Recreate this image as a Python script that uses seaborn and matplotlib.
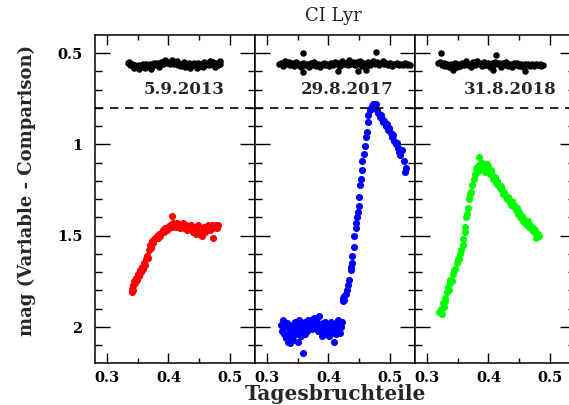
import numpy as np
import pandas as pd
import matplotlib
matplotlib.use("Agg")
import matplotlib.pyplot as plt
import seaborn as sns
from matplotlib.ticker import MultipleLocator, FuncFormatter

# ---------------- data ----------------
title = "CI Lyr"
dates = ["5.9.2013", "29.8.2017", "31.8.2018"]
xlabel = "Tagesbruchteile"
ylabel = "mag (Variable - Comparison)"
ref_level = 0.8

red_phase = [0.340, 0.341, 0.342, 0.343, 0.344, 0.346, 0.347, 0.349, 0.350, 0.352,
             0.353, 0.355, 0.357, 0.358, 0.360, 0.362, 0.363, 0.365, 0.367, 0.368,
             0.370, 0.372, 0.373, 0.375, 0.377, 0.379, 0.381, 0.383, 0.385, 0.387,
             0.389, 0.391, 0.393, 0.395, 0.397, 0.399, 0.401, 0.403, 0.405, 0.406,
             0.408, 0.410, 0.412, 0.414, 0.416, 0.418, 0.420, 0.422, 0.424, 0.426,
             0.428, 0.430, 0.432, 0.434, 0.436, 0.438, 0.440, 0.442, 0.444, 0.446,
             0.448, 0.450, 0.452, 0.454, 0.456, 0.458, 0.460, 0.462, 0.464, 0.466,
             0.468, 0.470, 0.472, 0.473, 0.475, 0.477, 0.479, 0.481]
red_mag = [1.81, 1.79, 1.80, 1.77, 1.75, 1.76, 1.73, 1.74, 1.71, 1.72,
           1.69, 1.70, 1.67, 1.68, 1.65, 1.66, 1.63, 1.61, 1.62, 1.58,
           1.55, 1.57, 1.53, 1.54, 1.52, 1.51, 1.50, 1.51, 1.49, 1.50,
           1.48, 1.47, 1.48, 1.46, 1.47, 1.45, 1.46, 1.44, 1.45, 1.39,
           1.43, 1.44, 1.45, 1.43, 1.44, 1.46, 1.44, 1.45, 1.43, 1.46,
           1.44, 1.47, 1.45, 1.46, 1.44, 1.47, 1.48, 1.45, 1.49, 1.47,
           1.44, 1.48, 1.49, 1.50, 1.47, 1.45, 1.48, 1.46, 1.44, 1.45,
           1.47, 1.44, 1.46, 1.51, 1.45, 1.44, 1.46, 1.44]

blue_phase = [0.323, 0.325, 0.326, 0.328, 0.329, 0.331, 0.332, 0.334, 0.335, 0.337,
              0.338, 0.340, 0.341, 0.343, 0.344, 0.346, 0.347, 0.349, 0.350, 0.352,
              0.353, 0.355, 0.356, 0.358, 0.359, 0.361, 0.362, 0.364, 0.365, 0.367,
              0.368, 0.370, 0.371, 0.373, 0.374, 0.376, 0.377, 0.379, 0.380, 0.382,
              0.383, 0.385, 0.386, 0.388, 0.389, 0.391, 0.392, 0.394, 0.395, 0.397,
              0.398, 0.400, 0.401, 0.403, 0.404, 0.406, 0.407, 0.409, 0.410, 0.412,
              0.413, 0.415, 0.416, 0.418, 0.419, 0.421, 0.422,
              0.423, 0.424, 0.425, 0.426, 0.428, 0.430, 0.432, 0.434, 0.436, 0.437,
              0.438, 0.439, 0.441, 0.442, 0.444, 0.445, 0.446, 0.448, 0.449, 0.450,
              0.452, 0.453, 0.454, 0.455, 0.457, 0.459, 0.461, 0.462, 0.464, 0.465,
              0.467, 0.469, 0.471, 0.473, 0.475, 0.477, 0.479, 0.481, 0.483, 0.485,
              0.487, 0.489, 0.491, 0.493, 0.495, 0.497, 0.499, 0.501, 0.503, 0.505,
              0.507, 0.509, 0.511, 0.513, 0.515, 0.517, 0.519, 0.522, 0.525, 0.526]
blue_mag = [1.99, 2.02, 1.96, 2.04, 2.00, 2.06, 1.98, 2.08, 2.03, 2.09,
            2.01, 2.06, 1.99, 2.07, 2.02, 1.97, 2.04, 2.00, 2.08, 1.96,
            2.03, 2.05, 1.99, 2.14, 2.01, 1.97, 2.04, 1.98, 2.02, 1.96,
            2.00, 1.98, 1.96, 2.01, 1.97, 1.99, 1.95, 1.98, 2.00, 1.97,
            2.02, 1.94, 1.99, 2.01, 2.05, 1.98, 2.03, 2.00, 1.97, 2.02,
            2.04, 1.99, 2.05, 2.01, 1.97, 2.03, 2.00, 2.08, 2.02, 1.98,
            2.04, 2.01, 1.96, 2.03, 1.99, 2.00, 1.97,
            1.86, 1.84, 1.85, 1.83, 1.82, 1.80, 1.77, 1.74, 1.69, 1.67,
            1.65, 1.61, 1.56, 1.50, 1.46, 1.43, 1.40, 1.37, 1.34, 1.29,
            1.22, 1.19, 1.14, 1.09, 1.05, 1.01, 0.96, 0.93, 0.88, 0.84,
            0.81, 0.80, 0.79, 0.78, 0.80, 0.78, 0.81, 0.83, 0.85, 0.84,
            0.86, 0.88, 0.87, 0.90, 0.89, 0.92, 0.91, 0.94, 0.96, 0.95,
            0.98, 1.00, 0.99, 1.02, 1.04, 1.06, 1.03, 1.09, 1.15, 1.13]

green_phase = [0.320, 0.322, 0.324, 0.326, 0.327, 0.329, 0.330, 0.332, 0.334, 0.335,
               0.337, 0.338, 0.340, 0.342, 0.344, 0.346, 0.348, 0.350, 0.352, 0.354,
               0.356, 0.358, 0.359, 0.361, 0.362, 0.364, 0.365, 0.367, 0.369, 0.370,
               0.372, 0.374, 0.376, 0.378, 0.380, 0.381, 0.383, 0.384, 0.386, 0.387,
               0.389, 0.390, 0.392, 0.394, 0.395, 0.397, 0.399, 0.400, 0.402, 0.404,
               0.406, 0.408, 0.410, 0.412, 0.414, 0.416, 0.418, 0.420, 0.422, 0.424,
               0.426, 0.428, 0.430, 0.432, 0.434, 0.436, 0.438, 0.440, 0.442, 0.444,
               0.446, 0.448, 0.450, 0.452, 0.454, 0.456, 0.458, 0.460, 0.462, 0.464,
               0.466, 0.468, 0.470, 0.472, 0.474, 0.476, 0.478, 0.480, 0.482]
green_mag = [1.92, 1.90, 1.93, 1.87, 1.89, 1.84, 1.86, 1.81, 1.78, 1.80,
             1.76, 1.74, 1.75, 1.71, 1.69, 1.68, 1.65, 1.63, 1.63, 1.60,
             1.58, 1.55, 1.52, 1.48, 1.45, 1.40, 1.38, 1.35, 1.30, 1.27,
             1.26, 1.22, 1.19, 1.16, 1.13, 1.15, 1.12, 1.07, 1.11, 1.13,
             1.10, 1.14, 1.12, 1.15, 1.13, 1.11, 1.14, 1.12, 1.16, 1.14,
             1.17, 1.19, 1.18, 1.21, 1.20, 1.22, 1.24, 1.23, 1.25, 1.27,
             1.26, 1.28, 1.30, 1.29, 1.31, 1.33, 1.31, 1.34, 1.33, 1.36,
             1.35, 1.38, 1.37, 1.40, 1.39, 1.42, 1.41, 1.43, 1.44, 1.42,
             1.45, 1.44, 1.47, 1.46, 1.48, 1.47, 1.51, 1.49, 1.50]

black1_phase = [0.334, 0.337, 0.340, 0.343, 0.346, 0.349, 0.352, 0.355, 0.358, 0.361,
                0.364, 0.367, 0.370, 0.373, 0.376, 0.379, 0.382, 0.385, 0.388, 0.391,
                0.394, 0.397, 0.400, 0.403, 0.406, 0.409, 0.412, 0.415, 0.418, 0.421,
                0.424, 0.427, 0.430, 0.433, 0.436, 0.439, 0.442, 0.445, 0.448, 0.451,
                0.454, 0.457, 0.460, 0.463, 0.466, 0.469, 0.472, 0.475, 0.478, 0.481,
                0.484, 0.336, 0.344, 0.352, 0.362, 0.372, 0.384, 0.395, 0.405, 0.414,
                0.425, 0.435, 0.447, 0.456, 0.467, 0.476, 0.483]
black1_mag = [0.555, 0.565, 0.560, 0.570, 0.565, 0.575, 0.568, 0.572, 0.562, 0.570,
              0.558, 0.567, 0.560, 0.572, 0.556, 0.565, 0.552, 0.562, 0.548, 0.558,
              0.545, 0.555, 0.550, 0.560, 0.548, 0.562, 0.555, 0.568, 0.558, 0.572,
              0.562, 0.575, 0.565, 0.555, 0.570, 0.560, 0.552, 0.566, 0.556, 0.570,
              0.560, 0.550, 0.565, 0.555, 0.568, 0.558, 0.548, 0.562, 0.555, 0.565,
              0.558, 0.548, 0.580, 0.585, 0.580, 0.585, 0.575, 0.540, 0.538, 0.545,
              0.548, 0.582, 0.580, 0.578, 0.545, 0.575, 0.545]

black2_phase = [0.320, 0.323, 0.326, 0.329, 0.332, 0.335, 0.338, 0.341, 0.344, 0.347,
                0.350, 0.353, 0.356, 0.359, 0.362, 0.365, 0.368, 0.371, 0.374, 0.377,
                0.380, 0.383, 0.386, 0.389, 0.392, 0.395, 0.398, 0.401, 0.404, 0.407,
                0.410, 0.413, 0.416, 0.419, 0.422, 0.425, 0.428, 0.431, 0.434, 0.437,
                0.440, 0.443, 0.446, 0.449, 0.452, 0.455, 0.458, 0.461, 0.464, 0.467,
                0.470, 0.473, 0.476, 0.479, 0.482, 0.485, 0.488, 0.491, 0.494, 0.497,
                0.500, 0.503, 0.506, 0.509, 0.512, 0.515, 0.518, 0.521, 0.524, 0.527,
                0.530, 0.532, 0.358, 0.478, 0.359, 0.448, 0.461, 0.415]
black2_mag = [0.560, 0.552, 0.570, 0.545, 0.558, 0.548, 0.565, 0.555, 0.572, 0.550,
              0.565, 0.558, 0.575, 0.552, 0.568, 0.560, 0.578, 0.555, 0.565, 0.550,
              0.570, 0.558, 0.575, 0.562, 0.552, 0.568, 0.558, 0.572, 0.552, 0.565,
              0.548, 0.560, 0.555, 0.570, 0.545, 0.562, 0.552, 0.568, 0.540, 0.558,
              0.550, 0.565, 0.548, 0.560, 0.545, 0.570, 0.552, 0.562, 0.548, 0.568,
              0.555, 0.545, 0.560, 0.550, 0.566, 0.555, 0.545, 0.560, 0.552, 0.565,
              0.555, 0.570, 0.558, 0.562, 0.552, 0.568, 0.558, 0.565, 0.556, 0.568,
              0.560, 0.565, 0.500, 0.493, 0.602, 0.600, 0.595, 0.600]

black3_phase = [0.318, 0.321, 0.324, 0.327, 0.330, 0.333, 0.336, 0.339, 0.342, 0.345,
                0.348, 0.351, 0.354, 0.357, 0.360, 0.363, 0.366, 0.369, 0.372, 0.375,
                0.378, 0.381, 0.384, 0.387, 0.390, 0.393, 0.396, 0.399, 0.402, 0.405,
                0.408, 0.411, 0.414, 0.417, 0.420, 0.423, 0.426, 0.429, 0.432, 0.435,
                0.438, 0.441, 0.444, 0.447, 0.450, 0.453, 0.456, 0.459, 0.462, 0.465,
                0.468, 0.471, 0.474, 0.477, 0.480, 0.483, 0.486, 0.488,
                0.323, 0.342, 0.407, 0.459, 0.413]
black3_mag = [0.555, 0.548, 0.565, 0.552, 0.570, 0.558, 0.575, 0.560, 0.568, 0.555,
              0.578, 0.562, 0.570, 0.552, 0.565, 0.545, 0.568, 0.558, 0.575, 0.550,
              0.565, 0.545, 0.560, 0.552, 0.572, 0.548, 0.565, 0.555, 0.578, 0.552,
              0.568, 0.548, 0.562, 0.555, 0.575, 0.552, 0.565, 0.550, 0.570, 0.558,
              0.575, 0.552, 0.566, 0.556, 0.570, 0.560, 0.575, 0.558, 0.568, 0.560,
              0.572, 0.562, 0.570, 0.560, 0.568, 0.562, 0.570, 0.565,
              0.502, 0.593, 0.593, 0.600, 0.510]

colors = ["#ff0000", "#0000ff", "#00ff00"]

# ---------------- plotting ----------------
sns.set_style("ticks")
plt.rcParams['font.family'] = ['DejaVu Serif']

W, H = 569, 405
fig = plt.figure(figsize=(W / 100, H / 100), dpi=100)

def rect(l, t, w, h):
    return [l / W, 1 - (t + h) / H, w / W, h / H]

lefts = [95, 255, 415]
panels = [
    (red_phase, red_mag, black1_phase, black1_mag),
    (blue_phase, blue_mag, black2_phase, black2_mag),
    (green_phase, green_mag, black3_phase, black3_mag),
]
date_x = [0.425, 0.430, 0.436]

fmt = FuncFormatter(lambda v, p: "%g" % round(v, 3))

for i, (l, (px, py, bx, by)) in enumerate(zip(lefts, panels)):
    ax = fig.add_axes(rect(l, 35, 160, 328))
    dfc = pd.DataFrame({"phase": px, "mag": py})
    dfb = pd.DataFrame({"phase": bx, "mag": by})
    sns.scatterplot(data=dfb, x="phase", y="mag", ax=ax, color="black",
                    s=22, linewidth=0, legend=False)
    sns.scatterplot(data=dfc, x="phase", y="mag", ax=ax, color=colors[i],
                    s=26, linewidth=0, legend=False)
    ax.axhline(ref_level, color="black", lw=1.2, ls=(0, (5, 4)))
    ax.set_xlim(0.2805, 0.5407)
    ax.set_ylim(2.197, 0.401)
    ax.xaxis.set_major_locator(MultipleLocator(0.1))
    ax.xaxis.set_minor_locator(MultipleLocator(0.05))
    ax.yaxis.set_major_locator(MultipleLocator(0.5))
    ax.yaxis.set_minor_locator(MultipleLocator(0.1))
    ax.xaxis.set_major_formatter(fmt)
    ax.yaxis.set_major_formatter(fmt)
    ax.tick_params(which="both", direction="in", top=True, right=True,
                   width=1.0, color="black", labelcolor="black")
    ax.tick_params(axis="x", which="major", length=7, pad=6, labelsize=10.5)
    ax.tick_params(axis="x", which="minor", length=3.6)
    ax.tick_params(axis="y", which="major", length=10.5, pad=9, labelsize=10.5)
    ax.tick_params(axis="y", which="minor", length=5)
    ax.tick_params(labelleft=(i == 0))
    for lab in ax.get_xticklabels() + ax.get_yticklabels():
        lab.set_fontweight("bold")
    for sp in ax.spines.values():
        sp.set_linewidth(1.1)
        sp.set_color("black")
    ax.set_xlabel("")
    ax.set_ylabel("")
    ax.text(date_x[i], 0.70, dates[i], ha="center", va="center",
            fontsize=12, fontweight="bold")

fig.text(333 / W, 1 - 16 / H, title, ha="center", va="center", fontsize=13)
fig.text(335 / W, 1 - 394 / H, xlabel, ha="center", va="center",
         fontsize=14.5, fontweight="bold")
fig.text(27 / W, 1 - 190 / H, ylabel, ha="center", va="center",
         rotation=90, fontsize=13, fontweight="bold")

fig.savefig("out.png", dpi=100)
